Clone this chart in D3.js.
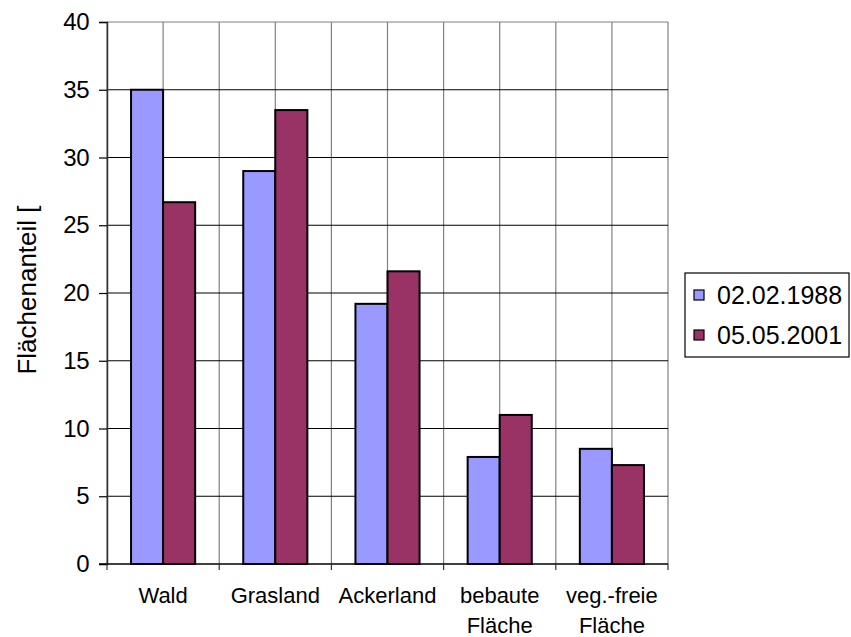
<!DOCTYPE html>
<html>
<head>
<meta charset="utf-8">
<script src="https://cdn.jsdelivr.net/npm/d3@7"></script>
<style>
  body { margin: 0; background: #fff; }
  svg { display: block; font-family: Arial, "Liberation Sans", sans-serif; }
</style>
</head>
<body>
<div id="chart"></div>
<script>
// Land use categories (two-line labels split on \n)
const categories = ['Wald', 'Grasland', 'Ackerland', 'bebaute\nFläche', 'veg.-freie\nFläche'];
const seriesNames = ['02.02.1988', '05.05.2001'];
const values1988 = [35, 29, 19.2, 7.9, 8.5];
const values2001 = [26.7, 33.5, 21.6, 11.0, 7.3];
const yTicks = [0, 5, 10, 15, 20, 25, 30, 35, 40];
const seriesColors = ['#9999ff', '#993366'];

const width = 851, height = 637;
const plot = { left: 107, right: 668, top: 22, bottom: 564 };

const svg = d3.select('#chart')
    .append('svg')
    .attr('width', width)
    .attr('height', height);

const x0 = d3.scaleBand()
    .domain(categories)
    .range([plot.left, plot.right])
    .padding(0);

const x1 = d3.scaleBand()
    .domain(seriesNames)
    .range([0, x0.bandwidth()])
    .paddingInner(0)
    .paddingOuter(0.75);

const y = d3.scaleLinear()
    .domain([0, 40])
    .range([plot.bottom, plot.top]);

// Vertical gridlines at band edges and band centres
const vLines = [];
categories.forEach(c => {
    vLines.push(x0(c));
    vLines.push(x0(c) + x0.bandwidth() / 2);
});
vLines.push(plot.right);

svg.append('g')
    .selectAll('line')
    .data(vLines)
    .join('line')
    .attr('x1', d => d).attr('x2', d => d)
    .attr('y1', plot.top).attr('y2', plot.bottom)
    .attr('stroke', '#808080')
    .attr('stroke-width', 1.2);

// Horizontal gridlines
svg.append('g')
    .selectAll('line')
    .data(yTicks.filter(t => t > 0 && t < 40))
    .join('line')
    .attr('x1', plot.left).attr('x2', plot.right)
    .attr('y1', d => y(d)).attr('y2', d => y(d))
    .attr('stroke', '#000')
    .attr('stroke-width', 1.2);

// top border
svg.append('line')
    .attr('x1', plot.left).attr('x2', plot.right)
    .attr('y1', y(40)).attr('y2', y(40))
    .attr('stroke', '#808080')
    .attr('stroke-width', 1.2);

// Bars
const table = categories.map((c, i) => ({
    cat: c,
    vals: [
        { name: seriesNames[0], v: values1988[i], color: seriesColors[0] },
        { name: seriesNames[1], v: values2001[i], color: seriesColors[1] }
    ]
}));

svg.append('g')
    .selectAll('g')
    .data(table)
    .join('g')
    .attr('transform', d => `translate(${x0(d.cat)},0)`)
    .selectAll('rect')
    .data(d => d.vals)
    .join('rect')
    .attr('x', d => x1(d.name))
    .attr('y', d => y(d.v))
    .attr('width', x1.bandwidth())
    .attr('height', d => y(0) - y(d.v))
    .attr('fill', d => d.color)
    .attr('stroke', '#000')
    .attr('stroke-width', 2);

// Y axis
const yAxis = svg.append('g')
    .attr('transform', `translate(${plot.left},0)`)
    .call(d3.axisLeft(y).tickValues(yTicks).tickSize(8).tickPadding(10));
yAxis.select('.domain').attr('stroke', '#333').attr('stroke-width', 1.5);
yAxis.selectAll('.tick line').attr('stroke', '#000').attr('stroke-width', 1.2);
yAxis.selectAll('text')
    .attr('font-size', '24px')
    .attr('font-family', 'Arial, "Liberation Sans", sans-serif')
    .attr('fill', '#000')
    .attr('letter-spacing', '-0.5px');

// X axis (ticks at band edges)
const xEdges = categories.map(c => x0(c)).concat([plot.right]);
svg.append('line')
    .attr('x1', plot.left - 8).attr('x2', plot.right)
    .attr('y1', plot.bottom).attr('y2', plot.bottom)
    .attr('stroke', '#000')
    .attr('stroke-width', 1.5);
svg.append('g')
    .selectAll('line')
    .data(xEdges)
    .join('line')
    .attr('x1', d => d).attr('x2', d => d)
    .attr('y1', plot.bottom).attr('y2', plot.bottom + 6)
    .attr('stroke', '#333')
    .attr('stroke-width', 1.2);

// Category labels
svg.append('g')
    .selectAll('text')
    .data(categories)
    .join('text')
    .attr('x', d => x0(d) + x0.bandwidth() / 2)
    .attr('y', 603)
    .attr('text-anchor', 'middle')
    .attr('font-size', '22px')
    .attr('fill', '#000')
    .each(function(d) {
        const lines = d.split('\n');
        d3.select(this).selectAll('tspan')
            .data(lines)
            .join('tspan')
            .attr('x', x0(d) + x0.bandwidth() / 2)
            .attr('dy', (l, i) => i === 0 ? 0 : 30)
            .text(l => l);
    });

// Y axis title (cut off in the original)
svg.append('text')
    .attr('transform', 'translate(36,290) rotate(-90)')
    .attr('text-anchor', 'middle')
    .attr('font-size', '26px')
    .attr('fill', '#000')
    .text('Flächenanteil [');

// Legend
const legend = svg.append('g');
legend.append('rect')
    .attr('x', 685).attr('y', 273)
    .attr('width', 164).attr('height', 84)
    .attr('fill', '#fff')
    .attr('stroke', '#000')
    .attr('stroke-width', 1.2);

const items = legend.selectAll('g.item')
    .data(seriesNames)
    .join('g')
    .attr('class', 'item')
    .attr('transform', (d, i) => `translate(694,${295 + i * 40})`);

items.append('rect')
    .attr('x', 0).attr('y', -5)
    .attr('width', 10).attr('height', 10)
    .attr('fill', (d, i) => seriesColors[i])
    .attr('stroke', '#000')
    .attr('stroke-width', 1.2);

items.append('text')
    .attr('x', 23)
    .attr('y', 0)
    .attr('dy', '0.36em')
    .attr('font-size', '25px')
    .attr('fill', '#000')
    .text(d => d);
</script>
</body>
</html>
